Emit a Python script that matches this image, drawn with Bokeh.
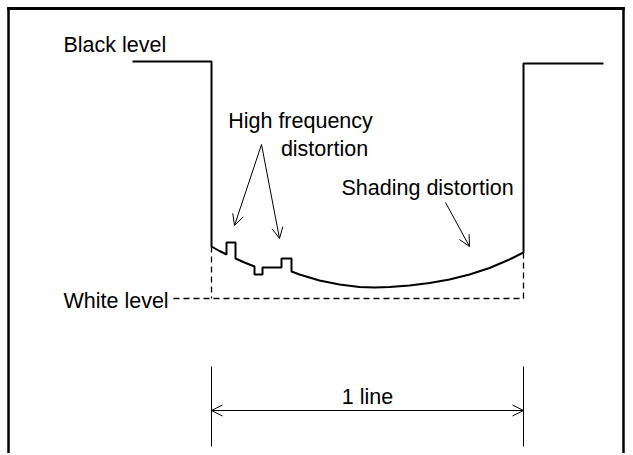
from bokeh.plotting import figure
from bokeh.models import Range1d, Arrow, OpenHead, ColumnDataSource, BoxAnnotation
from bokeh.core.properties import value
from bokeh.embed import file_html
from bokeh.resources import INLINE

# ---- data (diagram coordinates, image-pixel space, y grows downward) ----
frame_left = 9
frame_right = 624
frame_top = 9
frame_bottom = 470

# signal waveform: black level -> drop -> shaded bottom with HF bumps -> black level
wave_x = [133, 212, 212, 220, 227, 227, 236, 236, 245, 255, 255, 263, 263, 282, 282, 292, 292,
          300, 320, 340, 360, 375, 390, 410, 430, 450, 470, 490, 510, 524, 524, 604]
wave_y = [62, 62, 247, 251.5, 255, 243, 243, 259, 263, 267, 275, 275, 268, 268, 259, 259, 272,
          275, 281, 285, 287.5, 288, 287.5, 286, 283.5, 280, 275, 268.5, 260, 253, 64, 64]

white_x = [174, 524]
white_y = [299, 299]
left_dash_x = [212, 212]
left_dash_y = [247, 299]
right_dash_x = [524, 524]
right_dash_y = [253, 299]

# 1-line dimension
dim_ticks_x = [212, 524]
dim_tick_top = 367
dim_tick_bottom = 447
dim_y = 411

# annotation arrows (start -> end)
ann_x0 = [262, 262, 446]
ann_y0 = [145, 145, 203]
ann_x1 = [235, 280, 470]
ann_y1 = [226, 239, 247]

labels = ["Black level", "White level", "High frequency", "distortion", "Shading distortion", "1 line"]
label_x = [64, 64, 301, 325, 342, 368]
label_y = [45, 301, 121, 149, 188, 397]
label_align = ["left", "left", "center", "center", "left", "center"]

p = figure(width=631, height=453, x_range=Range1d(1, 632), y_range=Range1d(454, 1),
           x_axis_type=None, y_axis_type=None, toolbar_location=None,
           output_backend="svg", min_border=0, title=None)
p.min_border_left = p.min_border_right = p.min_border_top = p.min_border_bottom = 0
p.grid.visible = False
p.outline_line_color = None

# frame top as filled bands (glyph + annotation)
p.quad(left=[frame_left - 1.25], right=[frame_right + 1.25], top=[frame_top - 1.25],
       bottom=[frame_top + 1.25], fill_color="black", line_color=None)
p.add_layout(BoxAnnotation(left=frame_left - 1.25, right=frame_right + 1.25,
                           top=frame_top - 1.25, bottom=frame_top + 1.25,
                           fill_color="black", fill_alpha=1.0, line_color=None))

# waveform
p.line(wave_x, wave_y, line_color="black", line_width=2)

# dashed guides
for xs, ys in [(white_x, white_y), (left_dash_x, left_dash_y), (right_dash_x, right_dash_y)]:
    p.line(xs, ys, line_color="black", line_width=1.3, line_dash="6 4")

# dimension ticks and double arrow
p.segment(x0=dim_ticks_x, y0=[dim_tick_top] * 2, x1=dim_ticks_x, y1=[dim_tick_bottom] * 2,
          line_color="black", line_width=1)
p.add_layout(Arrow(start=OpenHead(size=11, line_width=1), end=OpenHead(size=11, line_width=1),
                   x_start=dim_ticks_x[0], y_start=dim_y, x_end=dim_ticks_x[1], y_end=dim_y,
                   line_width=1, line_color="black"))

# annotation arrows
for x0, y0, x1, y1 in zip(ann_x0, ann_y0, ann_x1, ann_y1):
    p.add_layout(Arrow(end=OpenHead(size=11, line_width=1), x_start=x0, y_start=y0,
                       x_end=x1, y_end=y1, line_width=1, line_color="black"))

# texts
src = ColumnDataSource(dict(x=label_x, y=label_y, text=labels, align=label_align))
p.text(x="x", y="y", text="text", source=src, text_align="align", text_baseline="alphabetic",
       text_font=value("Liberation Sans"), text_font_size="21.5px", text_color="black")

# frame sides (open at the bottom) and top line
p.segment(x0=[frame_left, frame_right], y0=[frame_bottom, frame_bottom],
          x1=[frame_left, frame_right], y1=[frame_top, frame_top],
          line_color="black", line_width=2.5)
p.line([frame_left - 1, frame_right + 1], [frame_top, frame_top], line_color="black", line_width=2.5)

open("out.html", "w").write(file_html(p, INLINE))
